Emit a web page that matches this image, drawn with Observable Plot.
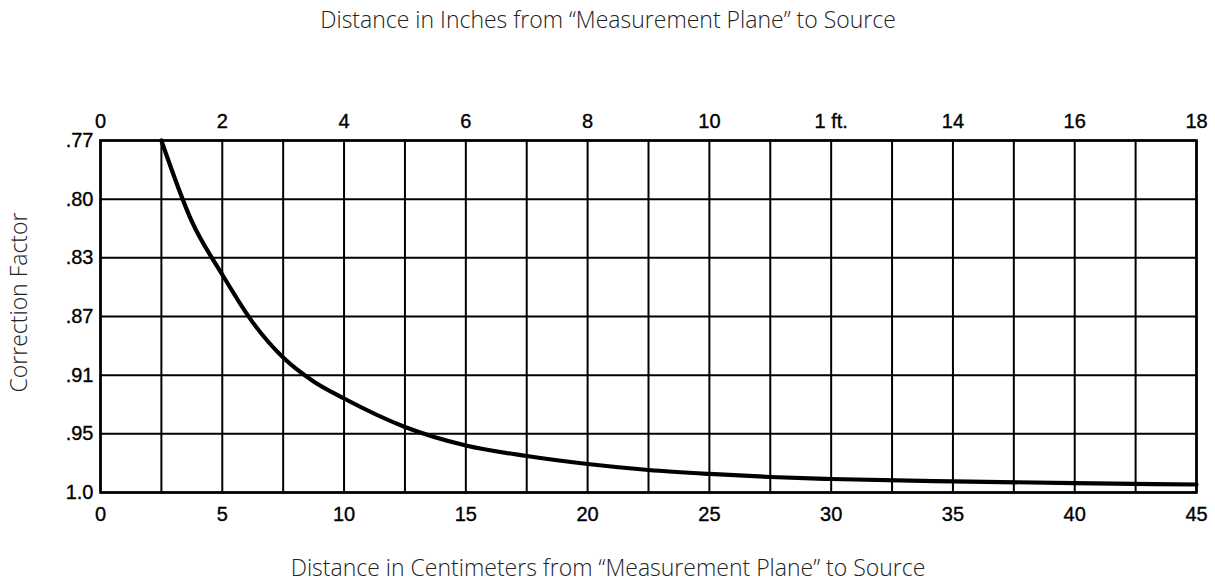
<!DOCTYPE html>
<html><head><meta charset="utf-8">
<script src="https://cdn.jsdelivr.net/npm/d3@7"></script>
<script src="https://cdn.jsdelivr.net/npm/@observablehq/plot@0.6"></script>
<style>
body{margin:0;background:#fff}
#chart svg{display:block}
#chart g[aria-label$="tick label"] text{stroke:#000;stroke-width:0.35px}
</style>
</head><body><div id="chart"></div>
<script>
// Curve: distance (cm) vs correction factor
const cmValues     = [2.5,  3.75,  5.0,   6.25,  7.5,   8.75,   10.0,   12.5,   15.0,  17.5,   20.0,   22.5,   25.0,   27.5,   30.0,   35.0,   40.0,  45.0];
const factorValues = [0.77, 0.8114, 0.8414, 0.874, 0.898, 0.9143, 0.9259, 0.9453, 0.9599, 0.9689, 0.9757, 0.9808, 0.9842, 0.9868, 0.9885, 0.9905, 0.992, 0.9932];

const yLevels = [0.77, 0.80, 0.83, 0.87, 0.91, 0.95, 1.0];
const yTickLabels = [".77", ".80", ".83", ".87", ".91", ".95", "1.0"];
const cmTicks = [0, 5, 10, 15, 20, 25, 30, 35, 40, 45];
const inchTicks = [0, 2, 4, 6, 8, 10, 12, 14, 16, 18];
const inchTickLabels = ["0", "2", "4", "6", "8", "10", "1 ft.", "14", "16", "18"];
const gridInches = [0,1,2,3,4,5,6,7,8,9,10,11,12,13,14,15,16,17,18];
const cmPerInch = 2.5; // chart scale: 18 in spans 45 cm

const topTitle = "Distance in Inches from \u201CMeasurement Plane\u201D to Source";
const bottomTitle = "Distance in Centimeters from \u201CMeasurement Plane\u201D to Source";
const yTitle = "Correction Factor";

const curve = cmValues.map((c, i) => ({cm: c, f: factorValues[i]}));
const gridCm = gridInches.map(d => d * cmPerInch);
const labelFont = "'Open Sans', sans-serif";

const W = 1215, H = 588, mT = 140, mB = 96, mL = 100, mR = 19;
// evenly spaced (non-linear) factor scale: each labelled level gets an equal band
const yRange = yLevels.map((d, i) => mT + i * (H - mT - mB) / (yLevels.length - 1));
const titleShift = W / 2 - (mL + (W - mL - mR) / 2);

const chart = Plot.plot({
  width: W,
  height: H,
  marginTop: mT,
  marginBottom: mB,
  marginLeft: mL,
  marginRight: mR,
  style: {fontFamily: "'Liberation Sans', Arial, sans-serif", fontSize: "20px", color: "#000", background: "#fff"},
  x: {domain: [0, 45]},
  y: {type: "linear", domain: yLevels, range: yRange},
  marks: [
    Plot.ruleX(gridCm, {stroke: "#000", strokeWidth: 2}),
    Plot.ruleY(yLevels, {stroke: "#000", strokeWidth: 2}),
    Plot.frame({stroke: "#000", strokeWidth: 2.6}),
    Plot.line(curve, {x: "cm", y: "f", stroke: "#000", strokeWidth: 4.2, curve: "monotone-x"}),
    Plot.axisX({anchor: "bottom", ticks: cmTicks, tickSize: 0, tickPadding: 14, label: null, fontSize: 20}),
    Plot.axisX({anchor: "top", ticks: inchTicks.map(d => d * cmPerInch), tickSize: 0, tickPadding: 13, label: null, fontSize: 20,
      tickFormat: d => inchTickLabels[inchTicks.indexOf(Math.round(d / cmPerInch))]}),
    Plot.axisY({ticks: yLevels, tickSize: 0, tickPadding: 7, label: null, fontSize: 20,
      tickFormat: d => yTickLabels[yLevels.indexOf(d)]}),
    Plot.text([topTitle], {frameAnchor: "top", lineAnchor: "middle", dx: titleShift, dy: -120, fontFamily: labelFont, fontWeight: 300, fontSize: 23, fill: "#222"}),
    Plot.text([bottomTitle], {frameAnchor: "bottom", lineAnchor: "middle", dx: titleShift, dy: 76, fontFamily: labelFont, fontWeight: 300, fontSize: 23, fill: "#222"}),
    Plot.text([yTitle], {frameAnchor: "left", textAnchor: "middle", lineAnchor: "middle", dx: -81, dy: -14, rotate: -90, fontFamily: labelFont, fontWeight: 300, fontSize: 23, fill: "#222"})
  ]
});
document.getElementById("chart").appendChild(chart);
</script>
</body></html>
